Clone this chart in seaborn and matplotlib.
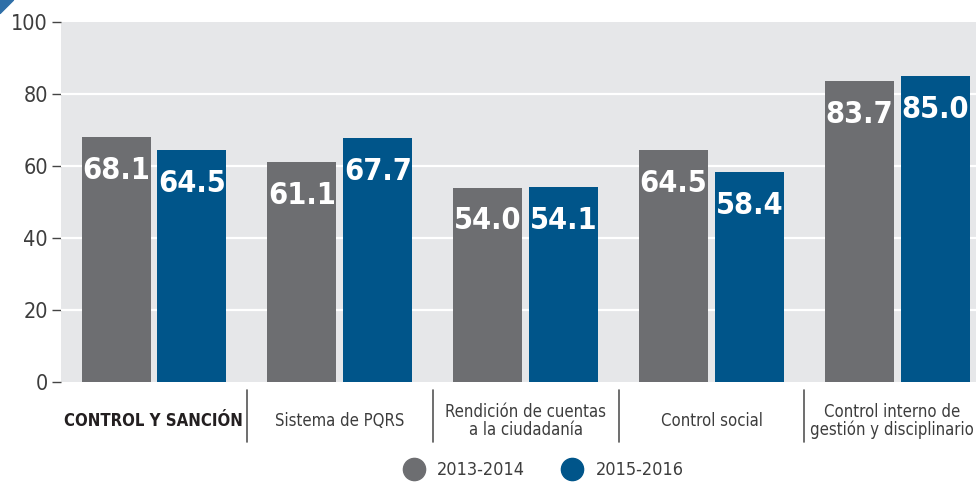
import pandas as pd
import seaborn as sns
import matplotlib.pyplot as plt
from matplotlib import font_manager as fm
from matplotlib.lines import Line2D
from matplotlib.patches import Polygon

# Data
categories = ['CONTROL Y SANCIÓN', 'Sistema de PQRS',
              'Rendición de cuentas\na la ciudadanía', 'Control social',
              'Control interno de\ngestión y disciplinario']
periods = ['2013-2014', '2015-2016']
values_2013_2014 = [68.1, 61.1, 54.0, 64.5, 83.7]
values_2015_2016 = [64.5, 67.7, 54.1, 58.4, 85.0]
yticks = [0, 20, 40, 60, 80, 100]

colors = ['#6d6e71', '#00558a']

df = pd.DataFrame({
    'categoria': categories * 2,
    'periodo': [periods[0]] * 5 + [periods[1]] * 5,
    'valor': values_2013_2014 + values_2015_2016,
})

# look for a narrow font
narrow = [f for f in fm.fontManager.ttflist
          if 'Narrow' in f.name or 'Condensed' in f.name
          or f.stretch in ('condensed', 'semi-condensed', 'extra-condensed')]
fam = narrow[0].name if narrow else 'DejaVu Sans'

sns.set_theme(style='white')
plt.rcParams['font.family'] = [fam, 'DejaVu Sans']
plt.rcParams['font.stretch'] = 'condensed'

fig = plt.figure(figsize=(9.76, 4.88), dpi=100)
ax = fig.add_axes([0.0625, 0.2172, 0.9375, 0.7377])
ax.set_facecolor('#e6e7e9')

sns.barplot(data=df, x='categoria', y='valor', hue='periodo',
            order=categories, hue_order=periods, palette=colors,
            width=0.816, gap=0.09, saturation=1, linewidth=0,
            legend=False, ax=ax, zorder=3)

# white grid
ax.set_ylim(0, 100)
ax.set_yticks(yticks)
for y in yticks[1:-1]:
    ax.axhline(y, color='white', lw=1.6, zorder=1)
ax.set_xlim(-0.5, 4.423)

for s in ax.spines.values():
    s.set_visible(False)

ax.tick_params(axis='y', length=6.5, width=1, color='#444444', pad=3,
               labelsize=15.5, labelcolor='#3d3d3d', left=True)
ax.set_xticks([])
ax.set_xlabel('')
ax.set_ylabel('')

# category labels below the bars (last one nudged left to stay inside)
trans = ax.get_xaxis_transform()
for i, cat in enumerate(categories):
    xpos = i - 0.03 if i == len(categories) - 1 else i
    bold = i == 0
    ax.text(xpos, -0.108, cat, transform=trans, ha='center', va='center',
            fontsize=12, linespacing=1.0,
            fontweight='bold' if bold else 'normal',
            color='#231f20' if bold else '#3d3d3d')

# value labels inside bars
for cont in ax.containers:
    for bar in cont:
        h = bar.get_height()
        ax.annotate(f'{h:.1f}', (bar.get_x() + bar.get_width() / 2, h),
                    xytext=(0, -24), textcoords='offset points',
                    ha='center', va='center', color='white',
                    fontsize=22, fontweight='bold', zorder=4)

# separators between categories
for x in [0.5, 1.5, 2.5, 3.5]:
    ax.plot([x, x], [-0.022, -0.167], color='#555555', lw=1.2,
            transform=trans, clip_on=False)

# legend
handles = [Line2D([], [], marker='o', ls='', markersize=16, color=c) for c in colors]
fig.legend(handles, periods, loc='center', bbox_to_anchor=(0.553, 0.037),
           ncol=2, frameon=False, fontsize=13, handletextpad=0.3,
           columnspacing=1.6, labelcolor='#3d3d3d')

# corner decoration
fig.patches.append(Polygon([[0, 1], [0.014, 1], [0, 0.972]], closed=True,
                           transform=fig.transFigure, color='#2f6fa8'))

fig.savefig('out.png', dpi=100)
